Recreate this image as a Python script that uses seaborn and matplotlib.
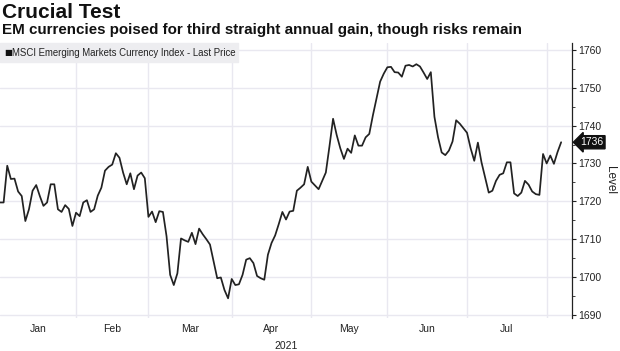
import numpy as np
import pandas as pd
import matplotlib
matplotlib.use("Agg")
import matplotlib.pyplot as plt
import seaborn as sns

# ---- data ----
start_date = "2021-01-01"
levels = [
    1719.7, 1719.7, 1729.4, 1725.9, 1726.0, 1722.6, 1721.4, 1714.8, 1717.9, 1722.8,
    1724.3, 1721.4, 1718.8, 1719.7, 1724.5, 1724.5, 1717.9, 1717.2, 1719.0, 1718.0,
    1713.5, 1717.0, 1716.1, 1719.7, 1720.3, 1717.2, 1717.9, 1721.5, 1723.6, 1728.1,
    1729.1, 1729.7, 1732.7, 1731.5, 1727.6, 1724.5, 1727.4, 1723.2, 1726.8, 1727.6,
    1726.1, 1715.9, 1717.3, 1714.5, 1717.4, 1717.2, 1710.8, 1700.6, 1697.9, 1701.0,
    1710.2, 1709.7, 1709.3, 1711.7, 1708.7, 1712.8, 1711.3, 1710.0, 1708.6, 1704.1,
    1699.7, 1699.9, 1696.6, 1694.4, 1699.5, 1697.9, 1698.1, 1700.6, 1704.6, 1705.0,
    1703.7, 1700.3, 1699.7, 1699.3, 1705.9, 1709.0, 1711.0, 1714.0, 1717.2, 1715.2,
    1717.3, 1717.5, 1722.8, 1723.6, 1724.5, 1729.1, 1725.2, 1724.2, 1723.2, 1725.4,
    1727.6, 1734.5, 1741.8, 1737.5, 1734.0, 1731.2, 1733.9, 1732.8, 1737.4, 1734.7,
    1734.7, 1736.9, 1737.8, 1742.7, 1747.2, 1751.6, 1753.7, 1755.4, 1755.5, 1754.1,
    1754.0, 1752.9, 1755.8, 1756.0, 1755.6, 1756.2, 1755.6, 1754.0, 1752.3, 1754.1,
    1742.3, 1736.9, 1732.9, 1732.2, 1733.4, 1735.8, 1741.4, 1740.5, 1739.3, 1738.1,
    1734.0, 1730.7, 1735.5, 1730.3, 1726.3, 1722.3, 1722.8, 1725.4, 1727.0, 1727.4,
    1730.3, 1730.3, 1722.1, 1721.4, 1722.3, 1725.4, 1724.4, 1722.6, 1721.9, 1721.7,
    1732.5, 1730.0, 1732.1, 1729.9, 1733.0, 1735.6,
]
month_labels = ["Jan", "Feb", "Mar", "Apr", "May", "Jun", "Jul"]
year_label = "2021"
y_ticks = [1690, 1700, 1710, 1720, 1730, 1740, 1750, 1760]
last_label = "1736"
title = "Crucial Test"
subtitle = "EM currencies poised for third straight annual gain, though risks remain"
series_name = "MSCI Emerging Markets Currency Index - Last Price"
y_title = "Level"

dates = pd.bdate_range(start_date, periods=len(levels))
df = pd.DataFrame({"date": dates, "level": levels})
df["pos"] = np.arange(len(df))

# first trading day of each month as positions
month_key = df["date"].dt.to_period("M")
starts = df.groupby(month_key)["pos"].min().tolist()  # Jan..Aug
label_pos = [(starts[i] + starts[i + 1]) / 2 for i in range(len(month_labels))]

# ---- style ----
sns.set_theme(style="white")
fam = ["Liberation Sans Narrow", "Liberation Sans", "DejaVu Sans"]
plt.rcParams["font.family"] = fam

fig = plt.figure(figsize=(6.2, 3.51), dpi=100)
ax = fig.add_axes([0.0, 0.094, 0.9226, 0.7835])

sns.lineplot(data=df, x="pos", y="level", ax=ax, color="#222222", linewidth=1.25)

ax.set_xlim(0, 158)
ax.set_ylim(1689.2, 1761.8)

grid_c = "#e9e8f0"
ax.set_yticks(y_ticks)
for v in y_ticks:
    ax.axhline(v, color=grid_c, lw=1.0, zorder=0)
for p in starts[1:]:
    ax.axvline(p, color=grid_c, lw=1.0, zorder=0)

ax.yaxis.tick_right()
ax.set_yticks(np.arange(1695, 1761, 10), minor=True)
ax.tick_params(axis="y", which="major", direction="out", length=3, width=0.8,
               color="#222222", labelsize=7.5, pad=1.5, labelcolor="#222222")
ax.tick_params(axis="y", which="minor", direction="out", length=2, width=0.6,
               color="#222222")
ax.set_yticklabels([str(v) for v in y_ticks])

ax.set_xticks(label_pos)
ax.set_xticklabels(month_labels)
ax.tick_params(axis="x", which="major", length=0, labelsize=7.5, pad=4,
               labelcolor="#222222")
ax.set_xlabel("")
ax.set_ylabel("")

for s in ["top", "left", "bottom"]:
    ax.spines[s].set_visible(False)
ax.spines["right"].set_color("#222222")
ax.spines["right"].set_linewidth(0.9)

# axis title on the right
fig.text(610 / 620, 1 - 180 / 351, y_title, rotation=270, fontsize=8.5,
         ha="center", va="center", color="#222222")

# year label under April
ax.text(label_pos[3] + 4, -0.085, year_label, transform=ax.get_xaxis_transform(),
        ha="center", va="top", fontsize=7.5, color="#222222")

# legend box
fig.patches.append(plt.Rectangle((0, 1 - 62 / 351), 238 / 620, 19 / 351,
                                 transform=fig.transFigure, color="#ededf0",
                                 zorder=0))
fig.text(4 / 620, 1 - 52.5 / 351, "\u25A0", fontsize=6, va="center", ha="left",
         color="#111111", family=["DejaVu Sans"])
fig.text(12 / 620, 1 - 52.5 / 351, series_name, fontsize=6.9, va="center",
         ha="left", color="#222222")

# titles
fig.text(2 / 620, 1 - 12 / 351, title, fontsize=15, fontweight="bold",
         va="center", ha="left", color="#111111")
fig.text(2 / 620, 1 - 30 / 351, subtitle, fontsize=10.9, fontweight="bold",
         va="center", ha="left", color="#111111")

# last value badge
last_val = levels[-1]
ax.annotate(last_label, xy=(1.0, last_val), xycoords=("axes fraction", "data"),
            xytext=(6, 0), textcoords="offset points", ha="left", va="center",
            fontsize=7.5, color="white",
            bbox=dict(boxstyle="larrow,pad=0.15", fc="#111111", ec="#111111"),
            annotation_clip=False)

fig.savefig("out.png", dpi=100)
